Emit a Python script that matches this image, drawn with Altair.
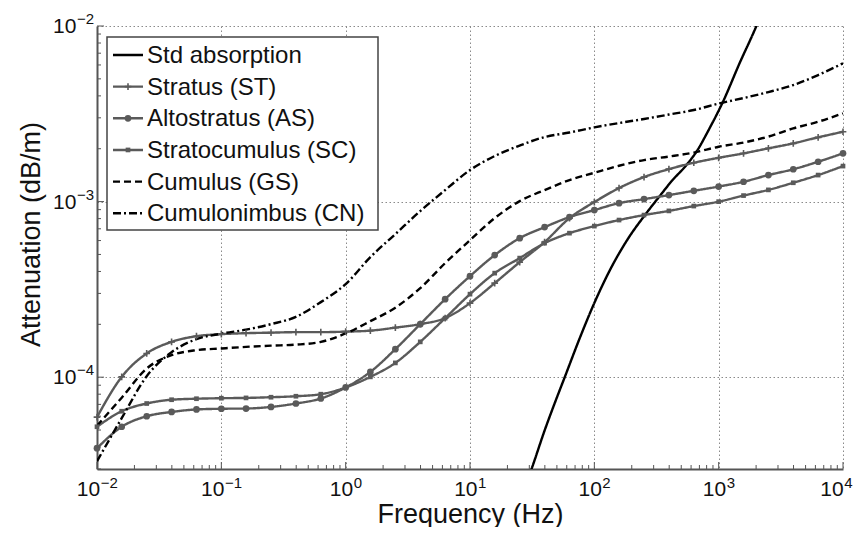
import altair as alt
import pandas as pd

# ---------------- data ----------------
names = ["Std absorption", "Stratus (ST)", "Altostratus (AS)",
         "Stratocumulus (SC)", "Cumulus (GS)", "Cumulonimbus (CN)"]

freq = [0.01, 0.0158, 0.0251, 0.0398, 0.0631, 0.1, 0.158, 0.251, 0.398, 0.631,
        1.0, 1.58, 2.51, 3.98, 6.31, 10.0, 15.8, 25.1, 39.8, 63.1,
        100.0, 158.0, 251.0, 398.0, 631.0, 1000.0, 1585.0, 2512.0, 3981.0, 6310.0, 10000.0]

stratus = [5.92e-5, 1.004e-4, 1.365e-4, 1.589e-4, 1.712e-4, 1.758e-4, 1.781e-4, 1.793e-4, 1.805e-4, 1.805e-4,
           1.817e-4, 1.841e-4, 1.915e-4, 2.005e-4, 2.169e-4, 2.641e-4, 3.433e-4, 4.52e-4, 5.88e-4, 8.05e-4,
           9.94e-4, 1.194e-3, 1.379e-3, 1.531e-3, 1.664e-3, 1.776e-3, 1.882e-3, 2.010e-3, 2.146e-3, 2.322e-3, 2.499e-3]

altostratus = [3.94e-5, 5.22e-5, 5.99e-5, 6.34e-5, 6.55e-5, 6.61e-5, 6.63e-5, 6.77e-5, 7.08e-5, 7.56e-5,
               8.74e-5, 1.072e-4, 1.444e-4, 2.005e-4, 2.782e-4, 3.763e-4, 4.958e-4, 6.19e-4, 7.155e-4, 8.16e-4,
               8.95e-4, 9.80e-4, 1.033e-3, 1.089e-3, 1.152e-3, 1.218e-3, 1.297e-3, 1.416e-3, 1.528e-3, 1.686e-3, 1.882e-3]

stratocumulus = [5.22e-5, 6.40e-5, 7.08e-5, 7.44e-5, 7.54e-5, 7.59e-5, 7.62e-5, 7.69e-5, 7.79e-5, 8.00e-5,
                 8.74e-5, 1.004e-4, 1.206e-4, 1.589e-4, 2.169e-4, 2.971e-4, 3.913e-4, 4.766e-4, 5.80e-4, 6.61e-4,
                 7.25e-4, 7.85e-4, 8.38e-4, 8.85e-4, 9.43e-4, 9.99e-4, 1.082e-3, 1.166e-3, 1.280e-3, 1.416e-3, 1.593e-3]

cumulus = [5.29e-5, 7.64e-5, 1.121e-4, 1.335e-4, 1.425e-4, 1.457e-4, 1.488e-4, 1.512e-4, 1.532e-4, 1.589e-4,
           1.774e-4, 2.085e-4, 2.489e-4, 3.215e-4, 4.462e-4, 6.03e-4, 8.05e-4, 1.006e-3, 1.163e-3, 1.326e-3,
           1.459e-3, 1.600e-3, 1.724e-3, 1.805e-3, 1.902e-3, 2.053e-3, 2.169e-3, 2.346e-3, 2.613e-3, 2.849e-3, 3.182e-3]

cumulonimbus = [3.32e-5, 5.84e-5, 1.013e-4, 1.388e-4, 1.646e-4, 1.769e-4, 1.865e-4, 2.005e-4, 2.206e-4, 2.676e-4,
                3.388e-4, 4.83e-4, 6.53e-4, 8.83e-4, 1.163e-3, 1.512e-3, 1.817e-3, 2.085e-3, 2.331e-3, 2.474e-3,
                2.647e-3, 2.802e-3, 2.953e-3, 3.131e-3, 3.322e-3, 3.618e-3, 3.888e-3, 4.206e-3, 4.611e-3, 5.257e-3, 6.13e-3]

std_freq = [25.1, 31.2, 39.9, 48.0, 57.8, 76.3, 100.7, 137.3, 185.6, 262.4,
            335.6, 419.0, 550.0, 662.0, 846.8, 1083.0, 1475.0, 2010.0, 2217.0]
std_att = [1.99e-5, 2.99e-5, 4.99e-5, 7.11e-5, 1.0e-4, 1.668e-4, 2.676e-4, 4.233e-4, 6.11e-4, 8.60e-4,
           1.075e-3, 1.309e-3, 1.614e-3, 1.922e-3, 2.623e-3, 3.705e-3, 6.15e-3, 1.0e-2, 1.186e-2]

# tick values and their labels (base 10 with exponent)
x_major = [0.01, 0.1, 1, 10, 100, 1000, 10000]
x_exps = ["\u22122", "\u22121", "0", "1", "2", "3", "4"]
y_major = [1e-4, 1e-3, 1e-2]
y_exps = ["\u22124", "\u22123", "\u22122"]
x_minor = [m * d for d in [0.01, 0.1, 1, 10, 100, 1000] for m in range(2, 10)]
y_minor = [v for v in [m * d for d in [1e-5, 1e-4, 1e-3] for m in range(2, 10)] if 3e-5 <= v <= 1e-2]

# ---------------- build tables ----------------
rows = []
for f, a in zip(std_freq, std_att):
    rows.append({"series": names[0], "f": f, "a": a})
for name, vals in zip(names[1:], [stratus, altostratus, stratocumulus, cumulus, cumulonimbus]):
    for f, a in zip(freq, vals):
        rows.append({"series": name, "f": f, "a": a})
df = pd.DataFrame(rows)

# ---------------- styling ----------------
W, H = 746, 443
PAD = {"left": 89, "top": 18, "right": 11, "bottom": 58}
FONT = "Liberation Sans"
TXT = "#111111"
GRAY = "#5a5a5a"
colors = ["#000000", GRAY, GRAY, GRAY, "#000000", "#000000"]
dashes = [[1, 0], [1, 0], [1, 0], [1, 0], [7, 4], [8, 3, 2, 3]]

xscale = alt.Scale(type="log", domain=[0.01, 10000], nice=False)
yscale = alt.Scale(type="log", domain=[3e-5, 1e-2], nice=False)

axis_common = dict(grid=True, gridDash=[1.5, 2.5], gridColor="#8a8a8a", gridWidth=1,
                   domainColor="#555555", domainWidth=2, ticks=False, labels=False,
                   titleFont=FONT, titleFontSize=27, titleFontWeight="normal", titleColor=TXT)
xaxis = alt.Axis(values=x_major, title="Frequency (Hz)", titlePadding=32, **axis_common)
yaxis = alt.Axis(values=y_major, title="Attenuation (dB/m)", titlePadding=52, titleY=208, **axis_common)

X = alt.X("f:Q", scale=xscale, axis=xaxis)
Y = alt.Y("a:Q", scale=yscale, axis=yaxis)

lines = alt.Chart(df).mark_line(clip=True, strokeWidth=2.4, interpolate="monotone").encode(
    x=X, y=Y,
    color=alt.Color("series:N", scale=alt.Scale(domain=names, range=colors), legend=None),
    strokeDash=alt.StrokeDash("series:N", scale=alt.Scale(domain=names, range=dashes), legend=None),
)

plus_path = "M-1,0L1,0M0,-1L0,1"
marker_style = {
    names[1]: dict(shape=plus_path, filled=False, size=45, strokeWidth=1.6),
    names[2]: dict(shape="circle", filled=True, size=45),
    names[3]: dict(shape="square", filled=True, size=22),
}
layers = [lines]
for name, st in marker_style.items():
    layers.append(
        alt.Chart(df).transform_filter(alt.datum.series == name)
        .mark_point(color=GRAY, opacity=1, **st).encode(x=X, y=Y)
    )

# inward ticks (MATLAB style)
tick_color = "#555555"
layers.append(alt.Chart(pd.DataFrame({"f": x_major})).mark_rule(color=tick_color, strokeWidth=1)
              .encode(x=X, y=alt.value(H), y2=alt.value(H - 7)))
layers.append(alt.Chart(pd.DataFrame({"f": x_minor})).mark_rule(color=tick_color, strokeWidth=1)
              .encode(x=X, y=alt.value(H), y2=alt.value(H - 4)))
layers.append(alt.Chart(pd.DataFrame({"a": y_major})).mark_rule(color=tick_color, strokeWidth=1)
              .encode(y=Y, x=alt.value(0), x2=alt.value(7)))
layers.append(alt.Chart(pd.DataFrame({"a": y_minor})).mark_rule(color=tick_color, strokeWidth=1)
              .encode(y=Y, x=alt.value(0), x2=alt.value(4)))

# tick labels: "10" with a raised exponent
BASE_FS, EXP_FS = 21, 15
base_w = 2 * 0.556 * BASE_FS


def exp_width(s):
    return sum((0.584 if ch == "\u2212" else 0.556) * EXP_FS for ch in s)


for i, (v, e) in enumerate(zip(x_major, x_exps)):
    total = base_w + exp_width(e)
    start = -total / 2
    if i == len(x_major) - 1:          # keep the last label inside the page
        start = min(start, PAD["right"] - total - 2)
    d = pd.DataFrame({"f": [v], "b": ["10"], "e": [e]})
    layers.append(alt.Chart(d).mark_text(align="left", baseline="middle", font=FONT, fontSize=BASE_FS,
                                         color=TXT, dx=start)
                  .encode(x=X, y=alt.value(H + 21), text="b:N"))
    layers.append(alt.Chart(d).mark_text(align="left", baseline="middle", font=FONT, fontSize=EXP_FS,
                                         color=TXT, dx=start + base_w + 0.5)
                  .encode(x=X, y=alt.value(H + 13.5), text="e:N"))

for v, e in zip(y_major, y_exps):
    d = pd.DataFrame({"a": [v], "b": ["10"], "e": [e]})
    layers.append(alt.Chart(d).mark_text(align="right", baseline="middle", font=FONT, fontSize=BASE_FS,
                                         color=TXT, dx=-3 - exp_width(e) - 0.5, dy=1)
                  .encode(y=Y, x=alt.value(0), text="b:N"))
    layers.append(alt.Chart(d).mark_text(align="right", baseline="middle", font=FONT, fontSize=EXP_FS,
                                         color=TXT, dx=-3, dy=-7)
                  .encode(y=Y, x=alt.value(0), text="e:N"))

# ---------------- legend (drawn by hand, MATLAB style) ----------------
one = pd.DataFrame({"k": [0]})
layers.append(alt.Chart(one).mark_rect(fill="white", stroke="#444444", strokeWidth=1.5)
              .encode(x=alt.value(10), x2=alt.value(281), y=alt.value(11), y2=alt.value(204)))
row0, step = 29, 31.65
for i, name in enumerate(names):
    yy = row0 + step * i
    layers.append(alt.Chart(one).mark_rule(color=colors[i], strokeWidth=2.4, strokeDash=dashes[i])
                  .encode(x=alt.value(16), x2=alt.value(46), y=alt.value(yy)))
    if name in marker_style:
        layers.append(alt.Chart(one).mark_point(color=GRAY, opacity=1, **marker_style[name])
                      .encode(x=alt.value(31), y=alt.value(yy)))
    layers.append(alt.Chart(pd.DataFrame({"label": [name]}))
                  .mark_text(align="left", baseline="middle", font=FONT, fontSize=24, color=TXT)
                  .encode(x=alt.value(50), y=alt.value(yy + 1), text="label:N"))

chart = alt.layer(*layers).properties(
    width=W, height=H, autosize="none",
    padding=PAD,
    background="white",
).configure_view(stroke=None)

chart.save("out.html", embed_options={"renderer": "svg", "actions": False})
